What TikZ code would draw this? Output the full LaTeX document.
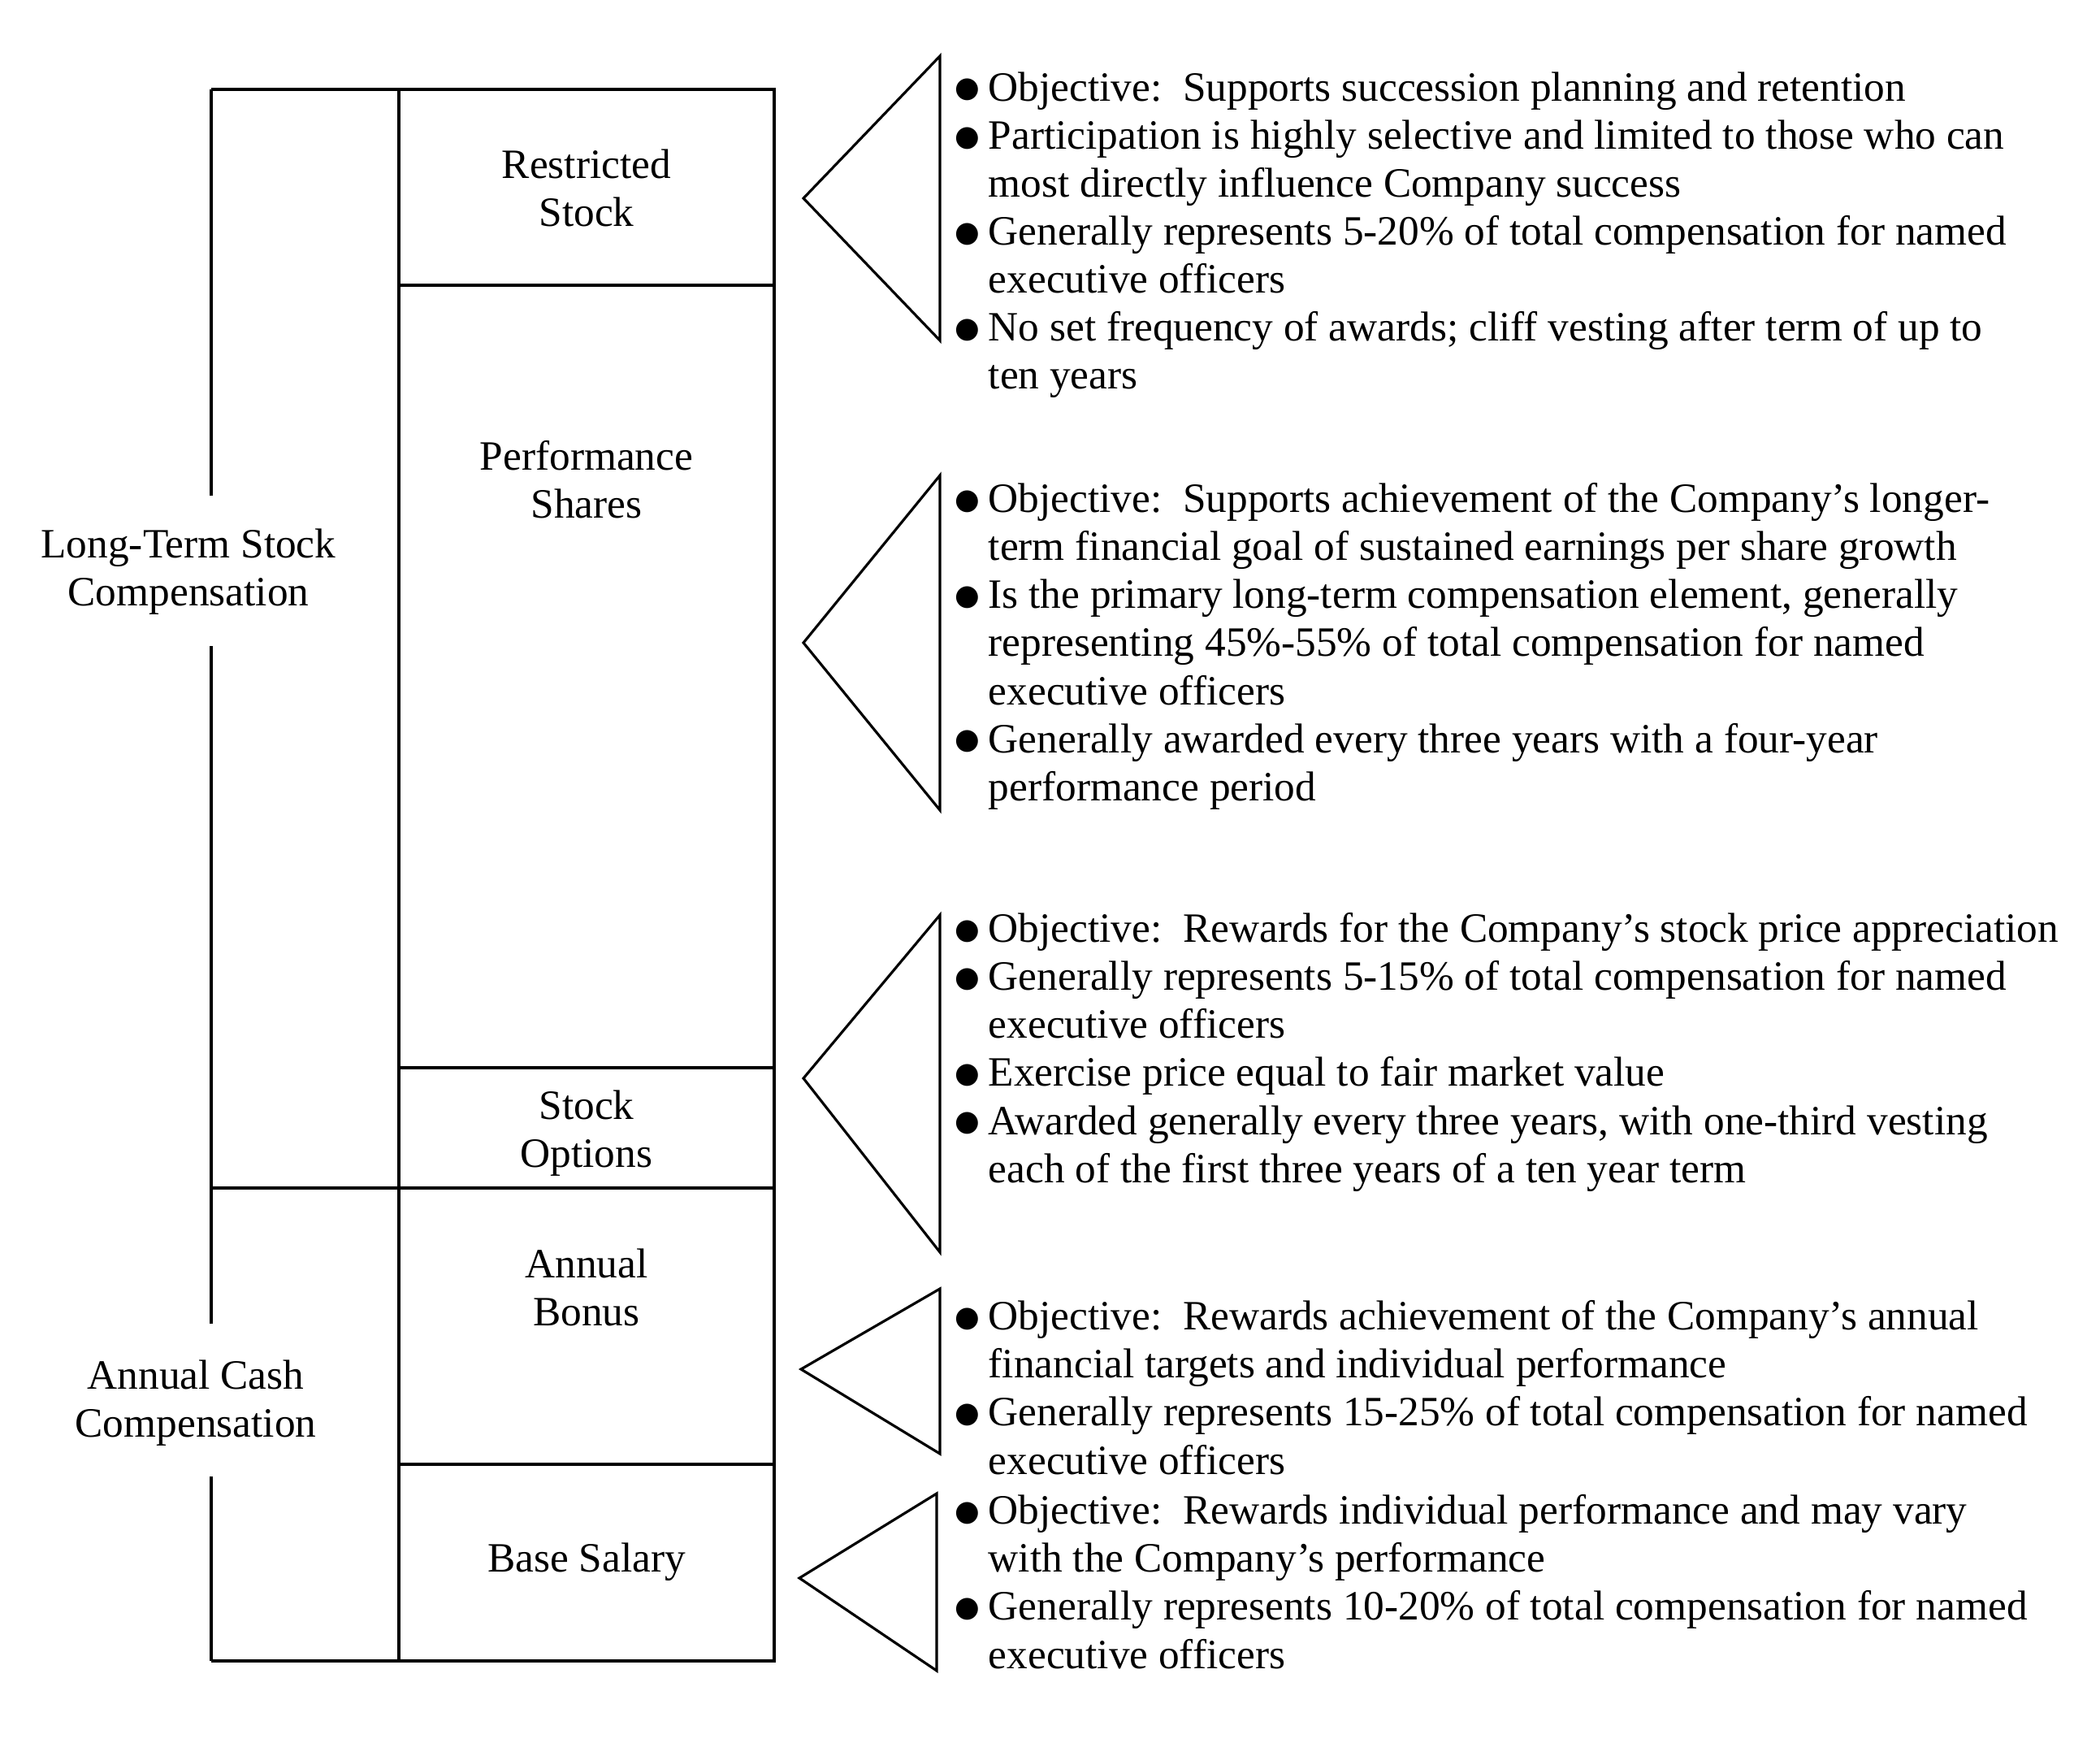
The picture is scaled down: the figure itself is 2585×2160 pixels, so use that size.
\documentclass[tikz,border=0pt]{standalone}
\usepackage{fontspec}
\setmainfont{Liberation Serif}
\newfontfamily\symfont{DejaVu Sans}
\usetikzlibrary{positioning}

% bullet and hanging indent for the note lines
\newcommand{\bul}{\makebox[11.7pt][l]{\raisebox{1.2pt}{\symfont\fontsize{10}{10}\selectfont ●}}}
\newcommand{\cont}{\hspace*{11.7pt}}

\begin{document}
\begin{tikzpicture}[x=0.01cm, y=-0.01cm, line width=0.9pt,
  lbl/.style={align=center, inner sep=0pt, font=\fontsize{14.6}{16.8}\selectfont},
  notes/.style={align=left, anchor=north west, inner sep=0pt, font=\fontsize{14.6}{16.8}\selectfont}]

\useasboundingbox (0,0) rectangle (2585,2160);

% Column frame
\draw (260,110) -- (953,110) -- (953,2044) -- (260,2044);
\draw (491,110) -- (491,2044);
\draw (260,110) -- (260,610);
\draw (260,795) -- (260,1629);
\draw (260,1817) -- (260,2044);
\draw (260,1462) -- (953,1462);

% Element dividers
\draw (491,351) -- (953,351);
\draw (491,1314) -- (953,1314);
\draw (491,1802) -- (953,1802);

% Group labels
\node[lbl] (ltsc) at (232,704) {Long-Term Stock\\Compensation};
\node[lbl] (acc) at (241,1727) {Annual Cash\\Compensation};

% Element labels
\node[lbl] (rstock) at (722,231) {Restricted\\Stock};
\node[lbl] (pshares) at (722,590) {Performance\\Shares};
\node[lbl] (options) at (722,1395) {Stock\\Options};
\node[lbl] (bonus) at (722,1584) {Annual\\Bonus};
\node[lbl] (salary) at (722,1922) {Base Salary};

% Wedges
\draw (1157,69) -- (989,244) -- (1157,419) -- cycle;
\draw (1157,585) -- (989,791) -- (1157,997) -- cycle;
\draw (1157,1126) -- (989,1327) -- (1157,1541) -- cycle;
\draw (1157,1586) -- (986,1685) -- (1157,1789) -- cycle;
\draw (1153,1838) -- (984,1942) -- (1153,2056) -- cycle;

% Notes
\node[notes] (rsnotes) at (1174,87) {\bul Objective:\ \ Supports succession planning and retention\\
\bul Participation is highly selective and limited to those who can\\
\cont most directly influence Company success\\
\bul Generally represents 5-20\% of total compensation for named\\
\cont executive officers\\
\bul No set frequency of awards; cliff vesting after term of up to\\
\cont ten years};

\node[notes] (psnotes) at (1174,593) {\bul Objective:\ \ Supports achievement of the Company’s longer-\\
\cont term financial goal of sustained earnings per share growth\\
\bul Is the primary long-term compensation element, generally\\
\cont representing 45\%-55\% of total compensation for named\\
\cont executive officers\\
\bul Generally awarded every three years with a four-year\\
\cont performance period};

\node[notes] (sonotes) at (1174,1122) {\bul Objective:\ \ Rewards for the Company’s stock price appreciation\\
\bul Generally represents 5-15\% of total compensation for named\\
\cont executive officers\\
\bul Exercise price equal to fair market value\\
\bul Awarded generally every three years, with one-third vesting\\
\cont each of the first three years of a ten year term};

\node[notes] (abnotes) at (1174,1599) {\bul Objective:\ \ Rewards achievement of the Company’s annual\\
\cont financial targets and individual performance\\
\bul Generally represents 15-25\% of total compensation for named\\
\cont executive officers};

\node[notes] (bsnotes) at (1174,1838) {\bul Objective:\ \ Rewards individual performance and may vary\\
\cont with the Company’s performance\\
\bul Generally represents 10-20\% of total compensation for named\\
\cont executive officers};

\end{tikzpicture}
\end{document}
